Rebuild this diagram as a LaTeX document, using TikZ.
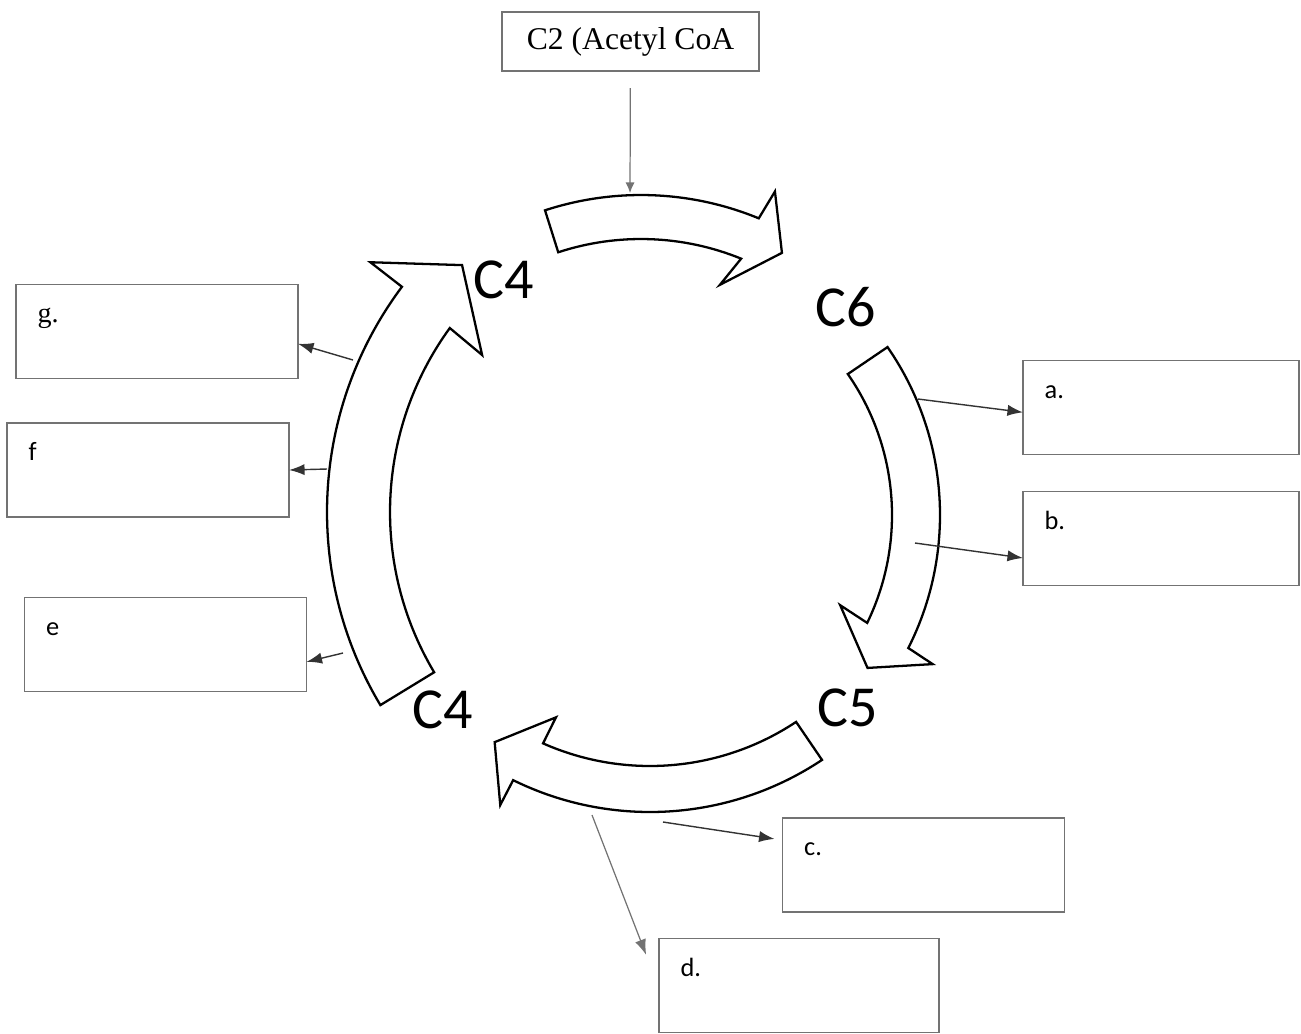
\documentclass[tikz,border=0pt]{standalone}
\usepackage{fontspec}
\setmainfont{Liberation Serif}
\newfontfamily\calib{Carlito}
\usetikzlibrary{positioning, arrows.meta, calc}

\begin{document}
\begin{tikzpicture}[x=0.01cm, y=0.01cm,
    box/.style={draw=black!55, line width=0.45pt, inner sep=0pt, outer sep=0pt,
        minimum width=2.82cm, minimum height=0.94cm},
    tag/.style={anchor=base west, inner sep=0pt, font=\calib\fontsize{7.5}{9}\selectfont},
    carbon/.style={inner sep=0pt, font=\calib\fontsize{16.5}{18}\selectfont},
    ring/.style={draw, fill=white, line width=0.65pt, line join=miter},
    product/.style={-{Latex[length=4.4pt, width=3.2pt]}, draw=black!80, line width=0.4pt},
    feed/.style={-{Latex[length=3pt, width=2.6pt]}, draw=black!55, line width=0.35pt}]
    \useasboundingbox (0,0) rectangle (1301,-1033);

    \node[box, minimum width=2.57cm, minimum height=0.59cm,
        font=\fontsize{9}{11}\selectfont] (acetyl) at (630.5,-41.5) {C2 (Acetyl CoA};

    \draw[ring, shift={(641,-504)}] (108.1:309) arc[start angle=108.1, end angle=67.6, radius=309]
        -- (66.8:340) -- (60.7:288) -- (70.2:233) -- (67.8:265)
        arc[start angle=67.8, end angle=108.2, radius=265] -- cycle;
    \draw[ring, shift={(645,-515)}] (34.7:295) arc[start angle=34.7, end angle=-26.8, radius=295]
        -- (-27.4:324) -- (-34.5:270) -- (-24.8:215) -- (-25.9:247)
        arc[start angle=-25.9, end angle=34.8, radius=247] -- cycle;
    \draw[ring, shift={(650,-502)}] (-56.3:310) arc[start angle=-56.3, end angle=-116.2, radius=310]
        -- (-116.3:338) -- (-122.9:286) -- (-113.6:235) -- (-113.9:264)
        arc[start angle=-113.9, end angle=-56.4, radius=264] -- cycle;
    \draw[ring, shift={(703,-512)}] (210.9:376) arc[start angle=210.9, end angle=143.2, radius=376]
        -- (143.1:416) -- (134.3:345) -- (144.6:271) -- (144:313)
        arc[start angle=144, end angle=210.8, radius=313] -- cycle;

    \node[carbon] (c4top) at (504,-280) {C4};
    \node[carbon] (c6) at (846,-307) {C6};
    \node[carbon] (c5) at (848,-708) {C5};
    \node[carbon] (c4low) at (443,-710) {C4};

    \node[box, minimum width=2.76cm] (boxA) at (1161,-407.5) {};
    \node[box, minimum width=2.76cm] (boxB) [below=0.37cm of boxA] {};
    \node[box] (boxC) at (923.5,-865) {};
    \node[box, minimum width=2.80cm] (boxD) at (799,-985.5) {};
    \node[box] (boxE) at (165.5,-644.5) {};
    \node[box] (boxF) at (148,-470) {};
    \node[box] (boxG) at (157,-331.5) {};

    \node[tag] (tagA) at ([shift={(21,-38)}]boxA.north west) {a.};
    \node[tag] (tagB) at ([shift={(21,-38)}]boxB.north west) {b.};
    \node[tag] (tagC) at ([shift={(21,-38)}]boxC.north west) {c.};
    \node[tag] (tagD) at ([shift={(21,-38)}]boxD.north west) {d.};
    \node[tag] (tagE) at ([shift={(21,-38)}]boxE.north west) {e};
    \node[tag] (tagF) at ([shift={(21,-38)}]boxF.north west) {f};
    \node[tag, font=\fontsize{8}{9}\selectfont] (tagG) at ([shift={(21,-38)}]boxG.north west) {g.};

    \coordinate (ringtop) at (630,-193);
    \coordinate (fromA) at (918,-399);
    \coordinate (fromB) at (915,-543);
    \coordinate (fromC) at (663,-822);
    \coordinate (fromD) at (592,-815);
    \coordinate (fromE) at (343,-653);
    \coordinate (fromF) at (327,-469);
    \coordinate (fromG) at (353,-360);

    \draw[feed, shorten <=0.17cm] (acetyl) -- (ringtop);
    \draw[product] (fromA) -- (boxA.182);
    \draw[product] (fromB) -- (boxB.188);
    \draw[product, shorten >=0.08cm] (fromC) -- (boxC.170);
    \draw[product, draw=black!55, line width=0.35pt, shorten >=0.355cm] (fromD) -- (boxD.181);
    \draw[product] (fromE) -- (boxE.-7);
    \draw[product] (fromF) -- (boxF.east);
    \draw[product] (fromG) -- (boxG.-5);
\end{tikzpicture}
\end{document}
